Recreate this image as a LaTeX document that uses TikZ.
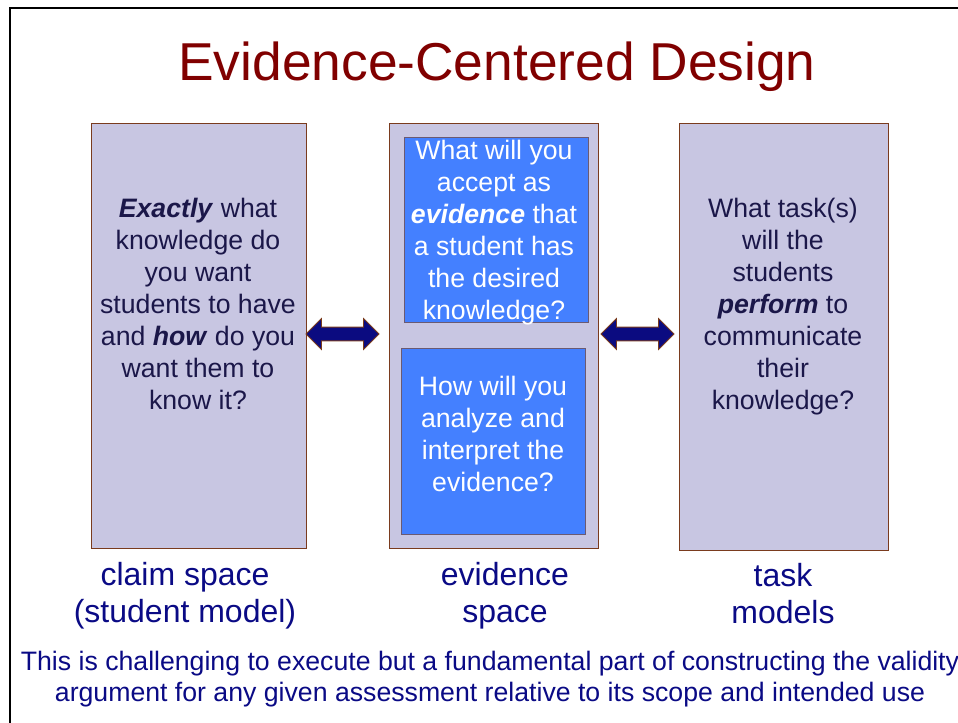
\documentclass[tikz,border=0pt]{standalone}
\usepackage{fontspec}
\setmainfont{Liberation Sans}
\usetikzlibrary{shapes.arrows}

\definecolor{titlered}{HTML}{800000}
\definecolor{lavender}{HTML}{C8C6E2}
\definecolor{boxedge}{HTML}{7A3B1E}
\definecolor{innerblue}{HTML}{4480FF}
\definecolor{inneredge}{HTML}{6B5A72}
\definecolor{boxtext}{HTML}{1B1749}
\definecolor{navytext}{HTML}{0A0A85}
\definecolor{arrowfill}{HTML}{0B0B80}

\begin{document}
\begin{tikzpicture}[x=0.75pt,y=-0.75pt,
  space/.style 2 args={draw=boxedge,fill=lavender,line width=1.1pt,anchor=north west,
    inner sep=0pt,minimum width=#1*0.75pt,minimum height=#2*0.75pt},
  question/.style 2 args={draw=inneredge,fill=innerblue,line width=1.1pt,anchor=north west,
    inner sep=0pt,minimum width=#1*0.75pt,minimum height=#2*0.75pt},
  boxtxt/.style={align=center,text=boxtext,font=\fontsize{20}{24}\selectfont},
  whitetxt/.style={align=center,text=white,font=\fontsize{20}{24}\selectfont},
  caption/.style={align=center,text=navytext,font=\fontsize{24}{27.75}\selectfont},
  linkarrow/.style={double arrow,draw=boxedge,fill=arrowfill,line width=0.6pt,
    minimum height=#1*0.75pt,minimum width=31*0.75pt,
    double arrow head extend=5.5*0.75pt,inner sep=4*0.75pt}]
	% Page and frame
	\useasboundingbox (0,0) rectangle (958,723);
	\draw[line width=2pt] (10,723) -- (10,8) -- (958,8);

	% Title
	\node[text=titlered,font=\fontsize{40}{48}\selectfont] (title) at (497,67) {Evidence-Centered Design};

	% Draw the three spaces
	\node[space={215}{425}] (claim) at (91,123) {};
	\node[space={209}{425}] (evid) at (389,123) {};
	\node[space={209}{427}] (task) at (679,123) {};

	% Questions inside the evidence space
	\node[question={184}{185}] (accept) at (404,137) {};
	\node[question={184}{186}] (analyze) at (401,348) {};

	% Texts of the boxes
	\node[boxtxt] (claimtxt) at (198,304) {\textbf{\textit{Exactly}} what\\knowledge do\\you want\\students to have\\and \textbf{\textit{how}} do you\\want them to\\know it?};
	\node[boxtxt] (tasktxt) at (783,307) {What task(s)\\will the\\students\\\textbf{\textit{perform}} to\\communicate\\their\\knowledge?};
	\node[whitetxt] (accepttxt) at (494,233) {What will you\\accept as\\\textbf{\textit{evidence}} that\\a student has\\the desired\\knowledge?};
	\node[whitetxt] (analyzetxt) at (493,434) {How will you\\analyze and\\interpret the\\evidence?};

	% Draw the double arrows
	\node[linkarrow=73] (arrowL) at (342.5,334) {};
	\node[linkarrow=73] (arrowR) at (637.5,334) {};

	% Captions
	\node[caption] (claimcap) at (185,596) {claim space\\(student model)};
	\node[caption] (evidcap) at (505,596) {evidence\\space};
	\node[caption] (taskcap) at (783,594) {task\\models};
	\node[align=center,text=navytext,font=\fontsize{20}{23.25}\selectfont] (note) at (490,679)
		{This is challenging to execute but a fundamental part of constructing the validity\\argument for any given assessment relative to its scope and intended use};
\end{tikzpicture}
\end{document}
